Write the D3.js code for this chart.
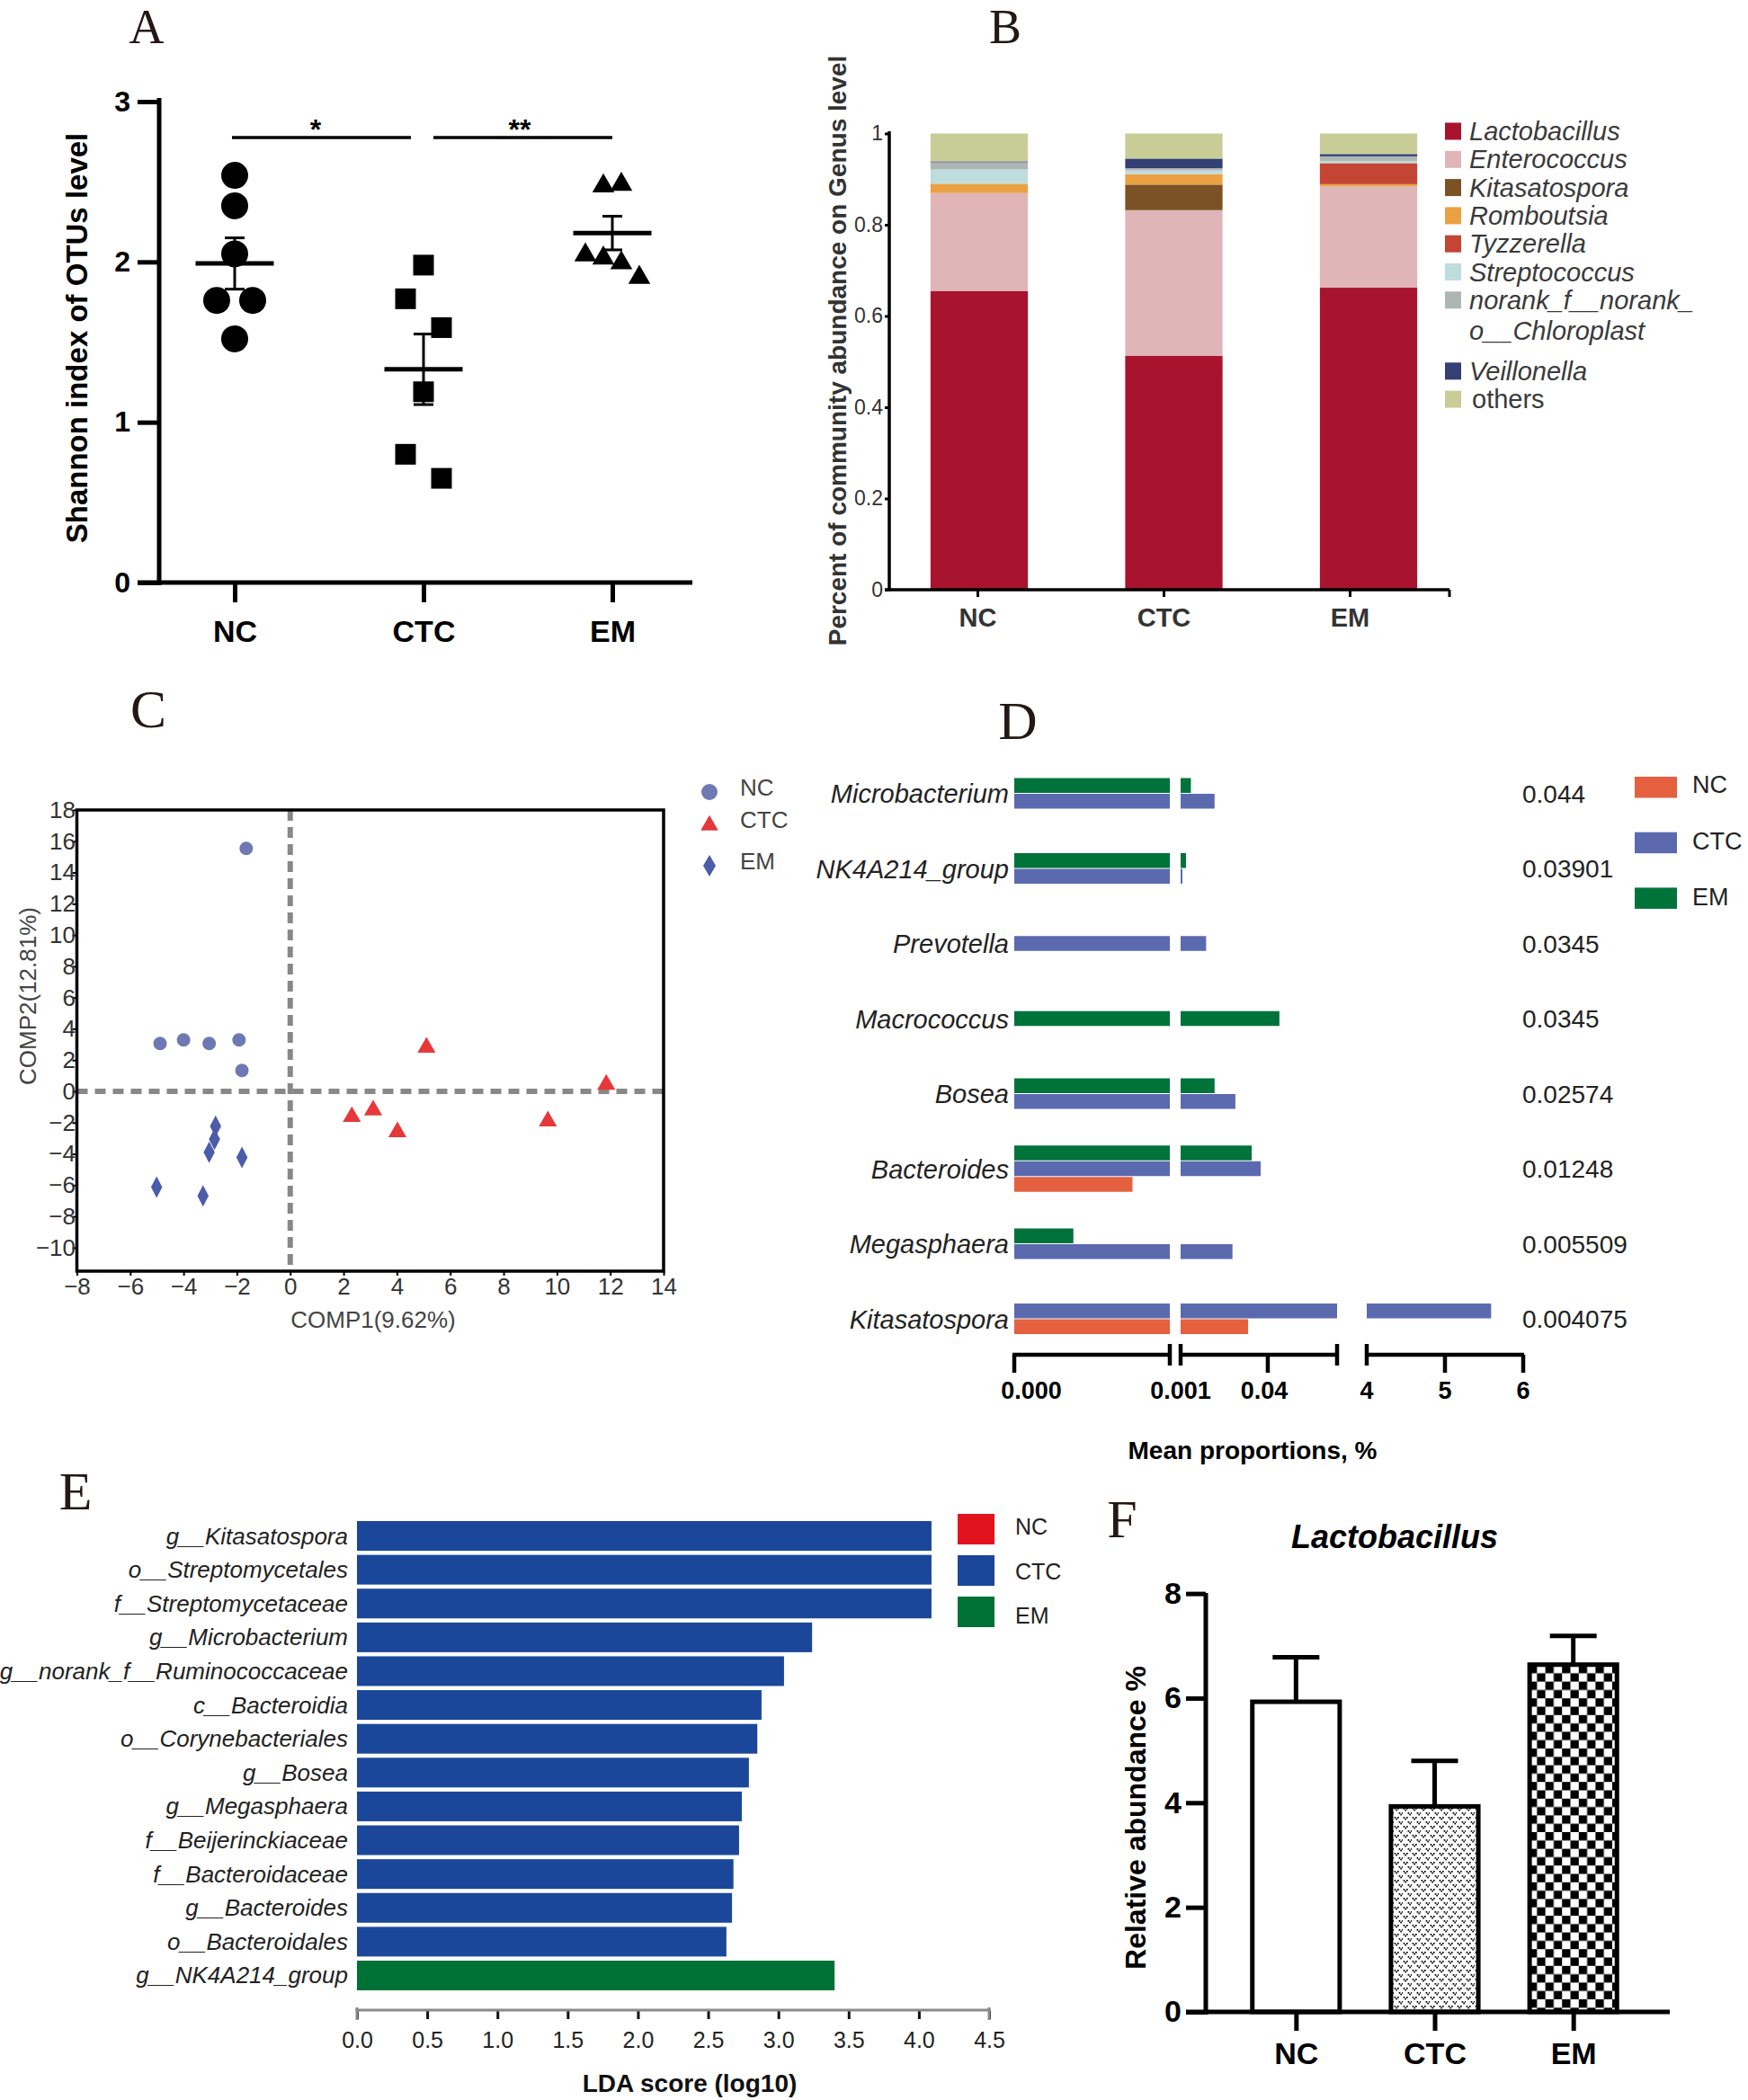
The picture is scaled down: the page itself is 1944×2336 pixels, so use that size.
<!DOCTYPE html>
<html><head><meta charset="utf-8">
<script src="https://cdn.jsdelivr.net/npm/d3@7"></script>
<style>
body{margin:0;background:#fff;}
</style></head><body>
<svg id="fig" width="1944" height="2336" xmlns="http://www.w3.org/2000/svg" font-family="'Liberation Sans', Arial, sans-serif"></svg>
<script>
// ---------------- DATA ----------------
const groups = ["NC", "CTC", "EM"];

// Panel A: Shannon index
const shannonNC  = [2.54, 2.35, 2.05, 1.76, 1.76, 1.52];
const shannonCTC = [1.98, 1.77, 1.59, 1.19, 0.80, 0.65];
const shannonEM  = [2.49, 2.50, 2.06, 2.04, 2.01, 1.92];
const shannonMean = [1.99, 1.33, 2.18];
const shannonSEM  = [0.16, 0.22, 0.105];
const shannonTicks = [0, 1, 2, 3];
const sigLabels = ["*", "**"];

// Panel B: genus composition
const genera = ["Lactobacillus", "Enterococcus", "Kitasatospora", "Romboutsia", "Tyzzerella",
  "Streptococcus", "norank_f__norank_o__Chloroplast", "Veillonella", "others"];
const generaColors = ["#a8132e", "#dfb5b8", "#7a5226", "#eaa144", "#c54535", "#bfdcde", "#aeb6b3", "#343f73", "#c8cd98"];
const abundNC  = [0.655, 0.2145, 0, 0.0205, 0, 0.031, 0.016, 0.002, 0.061];
const abundCTC = [0.513, 0.319, 0.056, 0.023, 0, 0.008, 0.005, 0.021, 0.055];
const abundEM  = [0.662, 0.222, 0, 0.005, 0.046, 0.005, 0.010, 0.005, 0.045];
const abundTicks = [0, 0.2, 0.4, 0.6, 0.8, 1];

// Panel C: PCA-like scores [COMP1, COMP2]
const pcaNC  = [[-1.65, 15.54], [-4.88, 3.06], [-4.0, 3.29], [-3.04, 3.06], [-1.92, 3.29], [-1.81, 1.34]];
const pcaCTC = [[5.11, 2.98], [11.85, 0.61], [2.31, -1.45], [3.11, -1.03], [4.02, -2.42], [9.66, -1.73]];
const pcaEM  = [[-2.80, -2.23], [-2.84, -3.06], [-3.04, -3.90], [-1.81, -4.23], [-5.01, -6.13], [-3.27, -6.69]];
const pcaXTicks = d3.range(-8, 15, 2);
const pcaYTicks = d3.range(-10, 19, 2);

// Panel D: mean proportions (%)
const dFeatures = ["Microbacterium", "NK4A214_group", "Prevotella", "Macrococcus", "Bosea", "Bacteroides", "Megasphaera", "Kitasatospora"];
const dPvalues  = ["0.044", "0.03901", "0.0345", "0.0345", "0.02574", "0.01248", "0.005509", "0.004075"];
const dNC  = [0, 0, 0, 0, 0, 0.00076, 0, 0.0312];
const dCTC = [0.0162, 0.0018, 0.0124, 0, 0.0255, 0.0368, 0.0242, 5.59];
const dEM  = [0.0056, 0.0034, 0, 0.0452, 0.0162, 0.0328, 0.00038, 0];
const dTickVals = [[0], [0.001, 0.04], [4, 5, 6]];
const dTickLabels = [["0.000"], ["0.001", "0.04"], ["4", "5", "6"]];
const dColors = {NC: "#e4603f", CTC: "#5b6aae", EM: "#00733b"};

// Panel E: LDA scores
const ldaTaxa = ["g__Kitasatospora", "o__Streptomycetales", "f__Streptomycetaceae", "g__Microbacterium",
  "g__norank_f__Ruminococcaceae", "c__Bacteroidia", "o__Corynebacteriales", "g__Bosea", "g__Megasphaera",
  "f__Beijerinckiaceae", "f__Bacteroidaceae", "g__Bacteroides", "o__Bacteroidales", "g__NK4A214_group"];
const ldaScores = [4.09, 4.09, 4.09, 3.24, 3.04, 2.88, 2.85, 2.79, 2.74, 2.72, 2.68, 2.67, 2.63, 3.40];
const ldaGroup  = ["CTC","CTC","CTC","CTC","CTC","CTC","CTC","CTC","CTC","CTC","CTC","CTC","CTC","EM"];
const ldaColors = {NC: "#e3131e", CTC: "#1b479a", EM: "#007236"};
const ldaTicks = d3.range(0, 4.51, 0.5);

// Panel F: Lactobacillus relative abundance (%)
const lactoMean = [5.93, 3.93, 6.64];
const lactoErr  = [0.85, 0.87, 0.55];
const lactoTicks = [0, 2, 4, 6, 8];

// ---------------- DRAW ----------------
const svg = d3.select("#fig");
const SANS = "'Liberation Sans', Arial, sans-serif";
const SERIF = "'Liberation Serif', 'Times New Roman', serif";

function txt(g, x, y, s, o = {}) {
  const t = g.append("text").attr("x", x).attr("y", y).text(s)
    .attr("font-size", o.size || 24).attr("fill", o.fill || "#222")
    .attr("text-anchor", o.anchor || "start")
    .attr("font-weight", o.weight || "normal")
    .attr("font-style", o.style || "normal")
    .attr("font-family", o.family || SANS);
  if (o.baseline) t.attr("dominant-baseline", o.baseline);
  if (o.rotate) t.attr("transform", `rotate(${o.rotate},${x},${y})`);
  return t;
}
function line(g, x1, y1, x2, y2, w, c = "#000") {
  return g.append("line").attr("x1", x1).attr("y1", y1).attr("x2", x2).attr("y2", y2)
    .attr("stroke", c).attr("stroke-width", w);
}
function styleAxis(g, size, weight, fill, lineW, lineC = "#000") {
  g.attr("font-family", SANS);
  g.select(".domain").remove();
  g.selectAll(".tick line").attr("stroke", lineC).attr("stroke-width", lineW);
  g.selectAll(".tick text").attr("font-size", size).attr("font-weight", weight)
    .attr("fill", fill).attr("font-family", SANS);
}

// Panel letters
[["A", 163, 48, 54], ["B", 1118, 48, 54], ["C", 165, 809, 60], ["D", 1132, 822, 60], ["E", 84, 1679, 60], ["F", 1248, 1710, 60]]
  .forEach(([l, x, y, s]) => txt(svg, x, y, l, {size: s, family: SERIF, anchor: "middle", fill: "#231815"}));

// ===== Panel A =====
{
  const g = svg.append("g");
  const y = d3.scaleLinear().domain([0, 3]).range([648, 113]);
  const x = d3.scalePoint().domain(groups).range([261, 681]);
  g.append("g").attr("transform", "translate(177,0)")
    .call(d3.axisLeft(y).tickValues(shannonTicks).tickSize(24).tickPadding(8).tickFormat(d3.format("d")))
    .call(a => styleAxis(a, 32, "bold", "#000", 5));
  line(g, 177, 109, 177, 651, 5);
  g.append("g").attr("transform", "translate(0,648)")
    .call(d3.axisBottom(x).tickSize(22).tickPadding(20))
    .call(a => styleAxis(a, 34, "bold", "#000", 5));
  line(g, 153, 648, 770, 648, 5);
  txt(g, 85, 376, "Shannon index of OTUs level", {size: 33, weight: "bold", anchor: "middle", baseline: "central", rotate: -90, fill: "#000"});

  const data = [shannonNC, shannonCTC, shannonEM];
  const syms = [d3.symbol(d3.symbolCircle, 707), d3.symbol(d3.symbolSquare, 529), d3.symbol(d3.symbolTriangle, 260)];
  const jitter = [[0, 0, 0, -1, 1, 0], [0, -1, 1, 0, -1, 1], [-0.5, 0.5, -1.5, -0.5, 0.5, 1.5]];
  groups.forEach((grp, i) => {
    const cx = x(grp);
    data[i].forEach((v, j) => {
      g.append("path").attr("d", syms[i]()).attr("fill", "#000")
        .attr("transform", `translate(${cx + jitter[i][j] * 20},${y(v) + (i === 2 ? 3 : 0)})`);
    });
    line(g, cx - 43.5, y(shannonMean[i]), cx + 43.5, y(shannonMean[i]), 5);
    line(g, cx, y(shannonMean[i] - shannonSEM[i]), cx, y(shannonMean[i] + shannonSEM[i]), 3);
    line(g, cx - 11, y(shannonMean[i] + shannonSEM[i]), cx + 11, y(shannonMean[i] + shannonSEM[i]), 3);
    line(g, cx - 11, y(shannonMean[i] - shannonSEM[i]), cx + 11, y(shannonMean[i] - shannonSEM[i]), 3);
  });
  const sy = 153;
  line(g, x("NC") - 3, sy, x("CTC") - 14, sy, 3.5);
  line(g, x("CTC") + 11, sy, x("EM"), sy, 3.5);
  txt(g, (x("NC") + x("CTC")) / 2 - 15, 155, sigLabels[0], {size: 32, weight: "bold", anchor: "middle", fill: "#000"});
  txt(g, (x("CTC") + x("EM")) / 2 + 2, 155, sigLabels[1], {size: 32, weight: "bold", anchor: "middle", fill: "#000"});
}

// ===== Panel B =====
{
  const g = svg.append("g");
  const y = d3.scaleLinear().domain([0, 1]).range([656, 148.5]);
  const x = d3.scaleBand().domain(groups).range([980.75, 1630.25]).paddingInner(0.5).paddingOuter(0.25);
  const xt = d3.scalePoint().domain(groups).range([1087, 1501]);
  const rows = [abundNC, abundCTC, abundEM].map((arr, i) => {
    const o = {group: groups[i]};
    genera.forEach((k, j) => o[k] = arr[j]);
    return o;
  });
  const series = d3.stack().keys(genera)(rows);
  series.forEach((s, j) => {
    g.selectAll(null).data(s).join("rect")
      .attr("x", d => x(d.data.group)).attr("width", x.bandwidth())
      .attr("y", d => y(d[1])).attr("height", d => Math.max(0, y(d[0]) - y(d[1])))
      .attr("fill", generaColors[j]);
  });
  g.append("g").attr("transform", "translate(989,0)")
    .call(d3.axisLeft(y).tickValues(abundTicks).tickSize(5).tickPadding(2).tickFormat(d3.format("~g")))
    .call(a => styleAxis(a, 23, "normal", "#333", 3));
  line(g, 989, 146, 989, 657.5, 3.5);
  line(g, 984, 656, 1612, 656, 3.5);
  g.append("g").attr("transform", "translate(0,656)")
    .call(d3.axisBottom(xt).tickSize(8).tickPadding(12))
    .call(a => styleAxis(a, 29, "bold", "#333", 3));
  line(g, 1612, 656, 1612, 664, 3);
  txt(g, 931, 390, "Percent of community abundance on Genus level", {size: 28, weight: "bold", anchor: "middle", baseline: "central", rotate: -90, fill: "#333"});
  let ly = 146;
  genera.forEach((k, j) => {
    g.append("rect").attr("x", 1607).attr("y", ly - 9.5).attr("width", 18).attr("height", 19).attr("fill", generaColors[j]);
    const italic = k !== "others";
    if (k.startsWith("norank")) {
      txt(g, 1634, ly, "norank_f__norank_", {size: 29, style: "italic", baseline: "central", fill: "#3a3a3a"});
      txt(g, 1634, ly + 34, "o__Chloroplast", {size: 29, style: "italic", baseline: "central", fill: "#3a3a3a"});
      ly += 79;
    } else {
      txt(g, k === "others" ? 1637 : 1634, ly, k, {size: 29, style: italic ? "italic" : "normal", baseline: "central", fill: "#3a3a3a"});
      ly += 31.3;
    }
  });
}

// ===== Panel C =====
{
  const g = svg.append("g");
  const x = d3.scaleLinear().domain([-8, 14]).range([85.5, 738]);
  const y = d3.scaleLinear().domain([-11.5, 18]).range([1414, 901]);
  line(g, x(-8), y(0), x(14), y(0), 6, "#888").attr("stroke-dasharray", "12,8");
  line(g, x(0), y(18), x(0), y(-11.5), 6, "#888").attr("stroke-dasharray", "12,7");
  g.append("rect").attr("x", x(-8)).attr("y", y(18)).attr("width", x(14) - x(-8)).attr("height", y(-11.5) - y(18))
    .attr("fill", "none").attr("stroke", "#000").attr("stroke-width", 3.5);
  g.append("g").attr("transform", `translate(${x(-8)},0)`)
    .call(d3.axisLeft(y).tickValues(pcaYTicks).tickSize(5).tickPadding(-3.5))
    .call(a => styleAxis(a, 26, "normal", "#333", 2));
  g.append("g").attr("transform", `translate(0,${y(-11.5)})`)
    .call(d3.axisBottom(x).tickValues(pcaXTicks).tickSize(5).tickPadding(3))
    .call(a => styleAxis(a, 26, "normal", "#333", 2));
  txt(g, 415, 1468, "COMP1(9.62%)", {size: 26, anchor: "middle", baseline: "central", fill: "#444"});
  txt(g, 31, 1108, "COMP2(12.81%)", {size: 26, anchor: "middle", baseline: "central", rotate: -90, fill: "#444"});
  const diamond = (w, h) => `M0,${-h / 2}L${w / 2},0L0,${h / 2}L${-w / 2},0Z`;
  const cols = {NC: "#6e78b4", CTC: "#e5383b", EM: "#4b5ca8"};
  pcaNC.forEach(([a, b]) => g.append("circle").attr("cx", x(a)).attr("cy", y(b)).attr("r", 7.5).attr("fill", cols.NC));
  pcaCTC.forEach(([a, b]) => g.append("path").attr("d", d3.symbol(d3.symbolTriangle, 175)()).attr("transform", `translate(${x(a)},${y(b) + 3})`).attr("fill", cols.CTC));
  pcaEM.forEach(([a, b]) => g.append("path").attr("d", diamond(12.5, 24)).attr("transform", `translate(${x(a)},${y(b)})`).attr("fill", cols.EM));
  g.append("circle").attr("cx", 789).attr("cy", 881).attr("r", 9).attr("fill", cols.NC);
  g.append("path").attr("d", d3.symbol(d3.symbolTriangle, 165)()).attr("transform", "translate(789,918)").attr("fill", cols.CTC);
  g.append("path").attr("d", diamond(14, 24)).attr("transform", "translate(789,963)").attr("fill", cols.EM);
  txt(g, 823, 876, "NC", {size: 26, baseline: "central", fill: "#444"});
  txt(g, 823, 912, "CTC", {size: 26, baseline: "central", fill: "#444"});
  txt(g, 823, 958, "EM", {size: 26, baseline: "central", fill: "#444"});
}

// ===== Panel D =====
{
  const g = svg.append("g");
  const yb = d3.scaleBand().domain(dFeatures).range([841.25, 1509.25]);
  const segs = [
    d3.scaleLinear().domain([0, 0.001]).range([1128, 1301]),
    d3.scaleLinear().domain([0.001, 0.071]).range([1313, 1487]),
    d3.scaleLinear().domain([4, 6]).range([1520, 1694])
  ];
  const slot = 17.5, bh = 16.5;
  dFeatures.forEach((f, i) => {
    const cy = yb(f) + yb.bandwidth() / 2;
    const present = [["EM", dEM[i]], ["CTC", dCTC[i]], ["NC", dNC[i]]].filter(d => d[1] > 0);
    const top = cy - present.length * slot / 2;
    present.forEach(([grp, v], k) => {
      const yy = top + k * slot;
      segs.forEach(s => {
        const [d0, d1] = s.domain();
        if (v > d0 || (d0 === 0 && v > 0)) {
          const x0 = s(d0), x1 = s(Math.min(v, d1));
          g.append("rect").attr("x", x0).attr("y", yy).attr("width", x1 - x0).attr("height", bh).attr("fill", dColors[grp]);
        }
      });
    });
    txt(g, 1122, cy, f, {size: 29, style: "italic", anchor: "end", baseline: "central", fill: "#222"});
    txt(g, 1693, cy, dPvalues[i], {size: 28, baseline: "central", fill: "#222"});
  });
  const ay = 1507;
  segs.forEach((s, si) => {
    const [r0, r1] = s.range();
    line(g, r0 - 2, ay, r1 + 1, ay, 4.5);
    dTickVals[si].forEach((t, ti) => {
      const tx = s(t);
      const isEdge = Math.abs(tx - r0) < 1;
      if (si === 0 || !isEdge) line(g, tx, ay, tx, ay + 20, 4.5);
      const lx = si === 0 ? tx + 19 : tx - (ti === 1 && si === 1 ? 4 : 0);
      txt(g, lx, 1547, dTickLabels[si][ti], {size: 27, weight: "bold", anchor: "middle", baseline: "central", fill: "#000"});
    });
    if (si > 0) line(g, r0, ay - 12, r0, ay + 12, 4.5);
    if (si < 2) line(g, r1, ay - 12, r1, ay + 12, 4.5);
  });
  txt(g, 1393, 1613, "Mean proportions, %", {size: 28, weight: "bold", anchor: "middle", baseline: "central", fill: "#000"});
  groups.forEach((grp, i) => {
    g.append("rect").attr("x", 1818).attr("y", 864 + i * 61.7).attr("width", 47).attr("height", 23.5).attr("fill", dColors[grp]);
    txt(g, 1882, 873 + i * 62.5, grp, {size: 27, baseline: "central", fill: "#222"});
  });
}

// ===== Panel E =====
{
  const g = svg.append("g");
  const x = d3.scaleLinear().domain([0, 4.5]).range([397, 1100]);
  const y = d3.scaleBand().domain(ldaTaxa).range([1689.7, 2216.3]).paddingInner(0.122).paddingOuter(0.061);
  ldaTaxa.forEach((t, i) => {
    g.append("rect").attr("x", x(0)).attr("y", y(t)).attr("width", x(ldaScores[i]) - x(0)).attr("height", y.bandwidth())
      .attr("fill", ldaColors[ldaGroup[i]]);
    txt(g, 387, y(t) + y.bandwidth() / 2, t, {size: 26, style: "italic", anchor: "end", baseline: "central", fill: "#222"});
  });
  g.append("g").attr("transform", "translate(0,2236)")
    .call(d3.axisBottom(x).tickValues(ldaTicks).tickSize(10).tickPadding(14).tickFormat(d3.format(".1f")))
    .call(a => styleAxis(a, 25, "normal", "#222", 3, "#111"));
  line(g, x(0) - 1.5, 2236, x(4.5) + 1.5, 2236, 3, "#8a8a8a");
  line(g, x(0), 2233, x(0), 2247, 3, "#8a8a8a");
  line(g, x(4.5), 2233, x(4.5), 2247, 3, "#8a8a8a");
  txt(g, 767, 2317, "LDA score (log10)", {size: 28, weight: "bold", anchor: "middle", baseline: "central", fill: "#111"});
  groups.forEach((grp, i) => {
    g.append("rect").attr("x", 1065).attr("y", 1684 + i * 46).attr("width", 41).attr("height", 34).attr("fill", ldaColors[grp]);
    txt(g, 1129, 1698 + i * 49.5, grp, {size: 25, baseline: "central", fill: "#222"});
  });
}

// ===== Panel F =====
{
  const g = svg.append("g");
  const defs = svg.append("defs");
  const pv = defs.append("pattern").attr("id", "patV").attr("patternUnits", "userSpaceOnUse").attr("width", 10).attr("height", 10);
  pv.append("rect").attr("width", 10).attr("height", 10).attr("fill", "#fff");
  [[0, 1], [5, 6]].forEach(([ox, oy]) => {
    pv.append("rect").attr("x", ox + 0.6).attr("y", oy).attr("width", 1.7).attr("height", 1.7).attr("fill", "#000");
    pv.append("rect").attr("x", ox + 4.0).attr("y", oy).attr("width", 1.7).attr("height", 1.7).attr("fill", "#000");
    pv.append("rect").attr("x", ox + 2.3).attr("y", oy + 1.7).attr("width", 1.7).attr("height", 1.7).attr("fill", "#000");
  });
  const pc = defs.append("pattern").attr("id", "patC").attr("patternUnits", "userSpaceOnUse").attr("width", 18.6).attr("height", 18.6).attr("x", 1700).attr("y", 1852);
  pc.append("rect").attr("width", 18.6).attr("height", 18.6).attr("fill", "#fff");
  pc.append("rect").attr("width", 9.3).attr("height", 9.3).attr("fill", "#000");
  pc.append("rect").attr("x", 9.3).attr("y", 9.3).attr("width", 9.3).attr("height", 9.3).attr("fill", "#000");
  const fills = ["#fff", "url(#patV)", "url(#patC)"];

  const y = d3.scaleLinear().domain([0, 8]).range([2238, 1772.6]);
  const x = d3.scaleBand().domain(groups).range([1365, 1826]).paddingInner(0.37).paddingOuter(0.18);
  groups.forEach((grp, i) => {
    const cx = x(grp) + x.bandwidth() / 2;
    line(g, cx, y(lactoMean[i]), cx, y(lactoMean[i] + lactoErr[i]), 5);
    line(g, cx - 26, y(lactoMean[i] + lactoErr[i]), cx + 26, y(lactoMean[i] + lactoErr[i]), 5);
    g.append("rect").attr("x", x(grp)).attr("y", y(lactoMean[i])).attr("width", x.bandwidth())
      .attr("height", y(0) - y(lactoMean[i])).attr("fill", fills[i]).attr("stroke", "#000").attr("stroke-width", 5);
  });
  g.append("g").attr("transform", "translate(1341,0)")
    .call(d3.axisLeft(y).tickValues(lactoTicks).tickSize(22).tickPadding(5))
    .call(a => styleAxis(a, 34, "bold", "#000", 5));
  line(g, 1341, 1772, 1341, 2241, 5);
  const xc = d3.scalePoint().domain(groups).range([x("NC") + x.bandwidth() / 2, x("EM") + x.bandwidth() / 2]);
  g.append("g").attr("transform", "translate(0,2238)")
    .call(d3.axisBottom(xc).tickSize(21).tickPadding(13))
    .call(a => styleAxis(a, 34, "bold", "#000", 5));
  line(g, 1319, 2238, 1857, 2238, 5);
  txt(g, 1263, 2022, "Relative abundance %", {size: 32, weight: "bold", anchor: "middle", baseline: "central", rotate: -90, fill: "#000"});
  txt(g, 1551, 1709, "Lactobacillus", {size: 36, weight: "bold", style: "italic", anchor: "middle", baseline: "central", fill: "#000"});
}
</script></body></html>
